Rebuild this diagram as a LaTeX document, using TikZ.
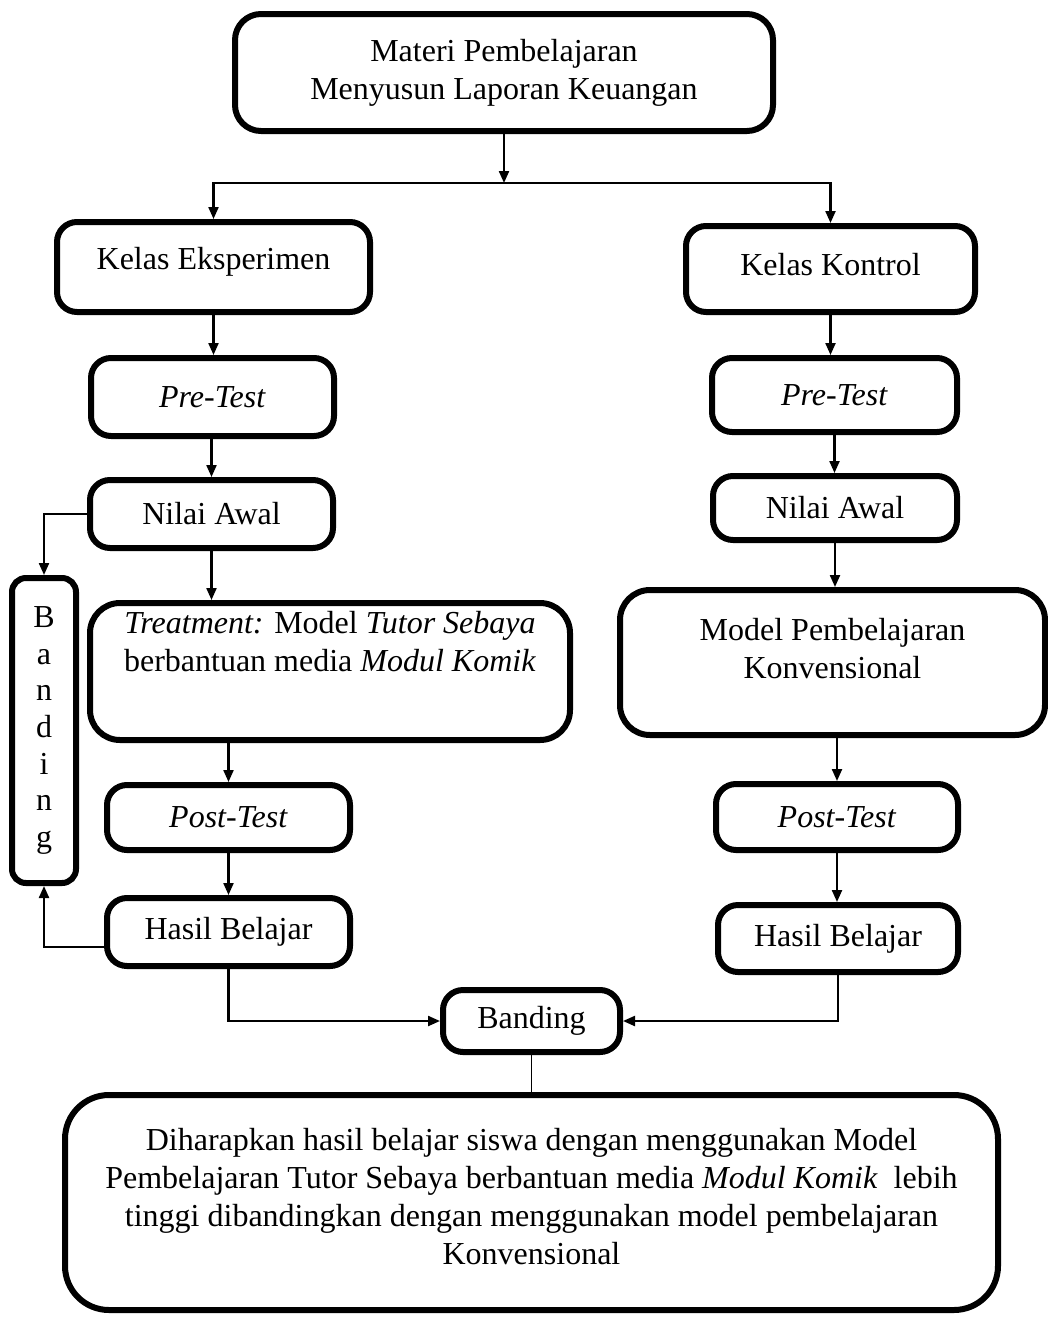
\documentclass[tikz,border=0pt]{standalone}
\usepackage{fontspec}
\setmainfont{Liberation Serif}
\usetikzlibrary{arrows.meta}

\begin{document}
\begin{tikzpicture}[x=0.5pt,y=-0.5pt,
    font=\fontsize{16}{19}\selectfont,
    box/.style={draw, line width=3pt, rounded corners=10pt, inner sep=0pt, align=center},
    txt/.style={align=center, inner sep=0pt},
    arr/.style={-{Triangle[length=6pt,width=5pt]}},
    every path/.style={line width=1.1pt}]

      \useasboundingbox (0,0) rectangle (1048,1318);

      % boxes
      \node[box, rounded corners=13pt, minimum width=269pt, minimum height=58.5pt] (mat) at (504,72.5)
        {Materi Pembelajaran\\Menyusun Laporan Keuangan};
      \node[box, minimum width=156.5pt, minimum height=45pt] (eks) at (213.5,267) {};
      \node[txt] (ekstxt) at (213.5,262) {Kelas Eksperimen};
      \node[box, minimum width=144.5pt, minimum height=43pt] (kon) at (830.5,269) {};
      \node[txt] (kontxt) at (830.5,265) {Kelas Kontrol};

      \node[box, minimum width=121.5pt, minimum height=39pt] (pre1) at (212.5,397) {\textit{Pre-Test}};
      \node[box, minimum width=122.5pt, minimum height=37pt] (pre2) at (834.5,395) {\textit{Pre-Test}};

      \node[box, minimum width=121.5pt, minimum height=34pt] (nil1) at (211.5,514) {Nilai Awal};
      \node[box, minimum width=122pt, minimum height=32pt] (nil2) at (835,508) {Nilai Awal};

      \node[box, rounded corners=15pt, minimum width=240pt, minimum height=68.5pt] (treat) at (330,671.5) {};
      \node[txt] (treattxt) at (330,642)
        {\textit{Treatment:} Model \textit{Tutor Sebaya}\\berbantuan media \textit{Modul Komik}};
      \node[box, rounded corners=15pt, minimum width=212.5pt, minimum height=72.5pt] (konv) at (832.5,662.5) {};
      \node[txt] (konvtxt) at (832.5,649) {Model Pembelajaran\\Konvensional};

      \node[box, minimum width=121.5pt, minimum height=32.5pt] (post1) at (228.5,817.5) {\textit{Post-Test}};
      \node[box, minimum width=121pt, minimum height=33pt] (post2) at (837,817) {\textit{Post-Test}};

      \node[box, minimum width=121.5pt, minimum height=34pt] (has1) at (228.5,932) {Hasil Belajar};
      \node[box, minimum width=120pt, minimum height=33.5pt] (has2) at (838,938.5) {Hasil Belajar};

      \node[box, rounded corners=7pt, minimum width=32pt, minimum height=152.5pt,
            font=\fontsize{16}{18.3}\selectfont] (band) at (44,730.5) {B\\a\\n\\d\\i\\n\\g};

      \node[box, minimum width=88.5pt, minimum height=31pt] (bnd) at (531.5,1021) {Banding};

      \node[box, rounded corners=22pt, minimum width=466.5pt, minimum height=107.5pt] (concl) at (531.5,1202.5) {};
      \node[txt] (concltxt) at (531.5,1197)
        {Diharapkan hasil belajar siswa dengan menggunakan Model\\
         Pembelajaran Tutor Sebaya berbantuan media \textit{Modul Komik}\ \ lebih\\
         tinggi dibandingkan dengan menggunakan model pembelajaran\\
         Konvensional};

      % connectors
      \coordinate (split) at (504,183);
      \draw[arr] (mat) -- (split);
      \draw[arr] (split) -| (eks.north);
      \draw[arr] (split) -| (kon.north);

      \draw[arr] (eks.south |- eks.south) -- (eks.south |- pre1.north);
      \draw[arr] (nil1.north |- pre1.south) -- (nil1.north);
      \draw[arr] (nil1.south) -- (nil1.south |- treat.north);
      \draw[arr] (post1.north |- treat.south) -- (post1.north);
      \draw[arr] (post1) -- (has1);
      \draw[arr] (nil1.west) -| (band.north);
      \draw[arr] ([yshift=-7.5pt]has1.west) -| (band.south);

      \draw[arr] (kon.south) -- (kon.south |- pre2.north);
      \draw[arr] (pre2.south) -- (pre2.south |- nil2.north);
      \draw[arr] (nil2.south) -- (nil2.south |- konv.north);
      \draw[arr] (post2.north |- konv.south) -- (post2.north);
      \draw[arr] (post2.south) -- (post2.south |- has2.north);

      \draw[arr] (has1.south) |- (bnd.west);
      \draw[arr] (has2.south) |- (bnd.east);
      \draw[line width=0.8pt] (bnd) -- (concl);

    \end{tikzpicture}
\end{document}
